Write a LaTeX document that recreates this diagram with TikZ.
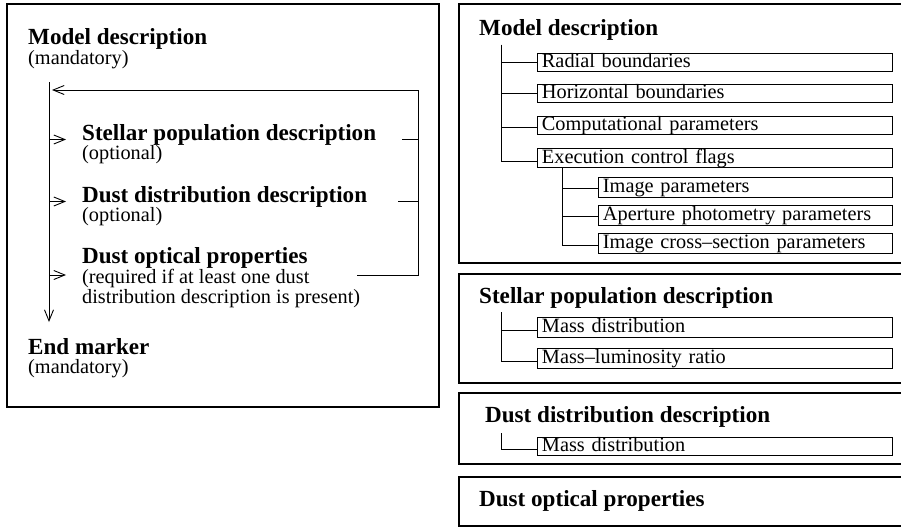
\documentclass[tikz,border=0pt]{standalone}
\usepackage{fontspec}
\setmainfont{Liberation Serif}
\usetikzlibrary{arrows.meta}
\begin{document}
\begin{tikzpicture}[x=1pt,y=-1pt,
  hd/.style={font=\fontsize{23.1}{26}\selectfont\bfseries, inner sep=0pt, anchor=base west},
  sub/.style={font=\fontsize{20.3}{23}\selectfont, inner sep=0pt, anchor=base west},
  item/.style={draw, line width=0.9pt, font=\fontsize{20.3}{23}\selectfont, anchor=north west,
    text width=346pt, align=left, inner xsep=4.5pt, inner ysep=0pt,
    text height=14.5pt, text depth=3.5pt},
  subitem/.style={item, text width=285pt, minimum height=20pt},
  frame/.style={line width=1.3pt},
  link/.style={line width=0.9pt},
  arr/.style={link, -{Straight Barb[length=11pt,width=9pt]}}
]
\useasboundingbox (0,0) rectangle (901,527);

% ---------------- left panel ----------------
\draw[frame] (7,4) rectangle (439,407);

\node[hd]  (md)   at (28,45)  {Model description};
\node[sub] (mdm)  at (28,64)  {(mandatory)};
\node[hd]  (sp)   at (82,140) {Stellar population description};
\node[sub] (spo)  at (82,159) {(optional)};
\node[hd]  (dd)   at (82,202) {Dust distribution description};
\node[sub] (ddo)  at (82,221) {(optional)};
\node[hd]  (dop)  at (82,263) {Dust optical properties};
\node[sub] (req1) at (82,283) {(required if at least one dust};
\node[sub] (req2) at (82,303.5) {distribution description is present)};
\node[hd]  (em)   at (28,354) {End marker};
\node[sub] (emm)  at (28,373) {(mandatory)};

\coordinate (vtop) at (49,82);
\coordinate (vbot) at (49,322);
\coordinate (ltip) at (52,90);
\coordinate (rx)   at (418,90);
\coordinate (r1)   at (402,139.5);
\coordinate (r2)   at (398,201.5);
\coordinate (r3)   at (357,275);

\draw[arr] (vtop) -- (vbot);
\draw[arr] (vtop |- r1) -- ([xshift=-16pt]sp.base west |- r1);
\draw[arr] (vtop |- r2) -- ([xshift=-16pt]dd.base west |- r2);
\draw[arr] (vtop |- r3) -- ([xshift=-16pt]req1.base west |- r3);
\draw[arr] (r3) -| (rx) -- (ltip);
\draw[link] (r1) -- (r1 -| rx);
\draw[link] (r2) -- (r2 -| rx);

% ---------------- right panel ----------------
\draw[frame] (901,4)   -| (459,263) -- (901,263);
\draw[frame] (901,274) -| (459,383) -- (901,383);
\draw[frame] (901,393) -| (459,464) -- (901,464);
\draw[frame] (901,477) -| (459,526) -- (901,526);

% Model description box
\node[hd] (rmd) at (479,36) {Model description};
\node[item] (rb) at (537,53)  {Radial boundaries};
\node[item] (hb) at (537,84)  {Horizontal boundaries};
\node[item] (cp) at (537,116) {Computational parameters};
\node[item, minimum height=19pt] (ex) at (537,148) {Execution control flags};
\node[subitem] (ip) at (598,177) {Image parameters};
\node[subitem] (ap) at (598,205) {Aperture photometry parameters};
\node[subitem] (ic) at (598,233) {Image cross--section parameters};

\coordinate (t1) at (501,45);
\draw[link] (t1) |- (rb.west);
\draw[link] (t1) |- (hb.west);
\draw[link] (t1) |- ([yshift=-2pt]cp.west);
\draw[link] (t1) |- ([yshift=-3.5pt]ex.west);
\coordinate (t2) at (ex.south -| 562,0);
\draw[link] (t2) |- ([yshift=-1pt]ip.west);
\draw[link] (t2) |- ([yshift=-1pt]ap.west);
\draw[link] (t2) |- ([yshift=-1.5pt]ic.west);

% Stellar population box
\node[hd] (rsp) at (479,303) {Stellar population description};
\node[item, minimum height=19.5pt] (smd) at (537,317) {Mass distribution};
\node[item, minimum height=20pt]   (sml) at (537,348) {Mass--luminosity ratio};
\coordinate (t3) at (501,312);
\draw[link] (t3) |- ([yshift=-3pt]smd.west);
\draw[link] (t3) |- ([yshift=-3pt]sml.west);

% Dust distribution box
\node[hd] (rdd) at (485,422) {Dust distribution description};
\node[item] (dmd) at (537,437) {Mass distribution};
\coordinate (t4) at (501,433);
\draw[link] (t4) |- ([yshift=-3pt]dmd.west);

% Dust optical properties box
\node[hd] (rdo) at (479,506) {Dust optical properties};
\end{tikzpicture}
\end{document}
